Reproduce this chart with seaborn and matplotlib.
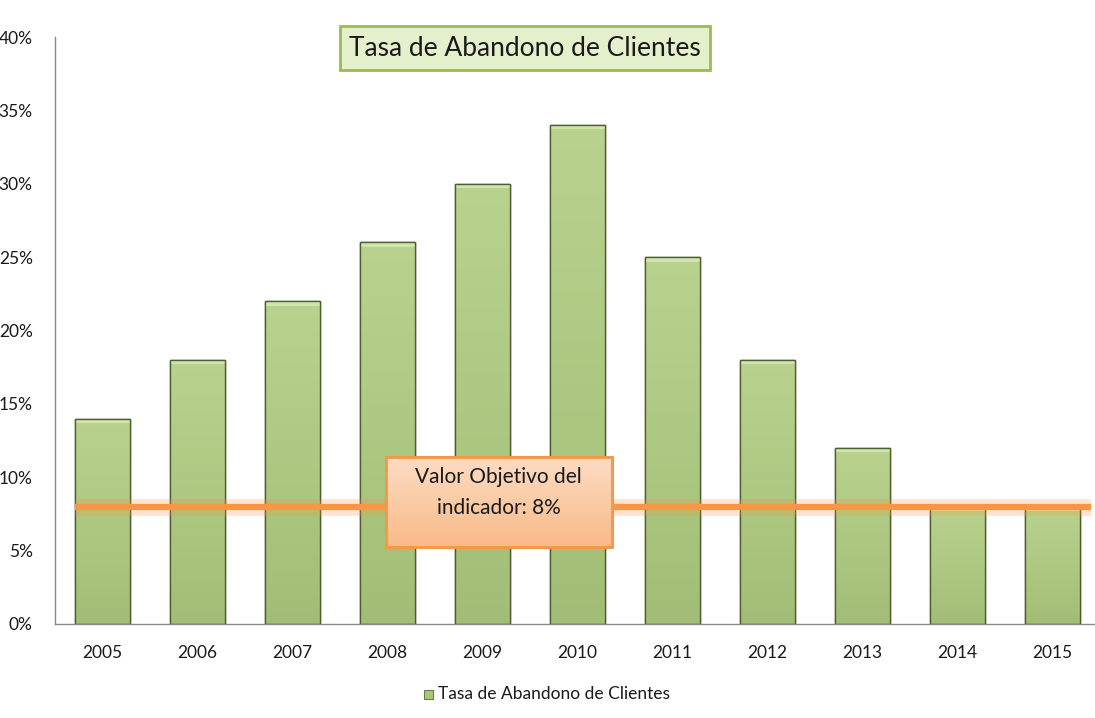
import matplotlib
matplotlib.use("Agg")
import matplotlib.pyplot as plt
import seaborn as sns
import numpy as np
import pandas as pd
from matplotlib.patches import Rectangle
from matplotlib.colors import LinearSegmentedColormap
from matplotlib.ticker import FuncFormatter, MultipleLocator

years = ["2005", "2006", "2007", "2008", "2009", "2010", "2011", "2012", "2013", "2014", "2015"]
rates = [14, 18, 22, 26, 30, 34, 25, 18, 12, 8, 8]
target = 8
title = "Tasa de Abandono de Clientes"
note = "Valor Objetivo del\nindicador: 8%"

sns.set_theme(style="white")
plt.rcParams['font.family'] = ['Lato', 'DejaVu Sans']

fig = plt.figure(figsize=(10.95, 7.18), dpi=100)
ax = fig.add_axes([55/1095, 94/718, 1045/1095, 587/718])

df = pd.DataFrame({"Año": years, "Tasa": rates})
sns.barplot(data=df, x="Año", y="Tasa", color="#B0CC80", width=0.58,
            edgecolor="#4f5f33", linewidth=1.0, saturation=1, ax=ax, zorder=2)

# gradient shading on bars
bar_cmap = LinearSegmentedColormap.from_list("g", ["#A2BE76", "#B9D38E"])
grad = np.linspace(0, 1, 256).reshape(-1, 1)
for p in list(ax.patches):
    x0, w, h = p.get_x(), p.get_width(), p.get_height()
    im = ax.imshow(grad, cmap=bar_cmap, aspect="auto", origin="lower",
                   extent=(x0, x0 + w, 0, h), zorder=2.2)
    im.set_clip_path(p)
    ax.add_patch(Rectangle((x0, h - 0.3), w, 0.3, facecolor="#D2E5AE",
                           edgecolor="none", zorder=2.5))
    ax.add_patch(Rectangle((x0, 0), w, h, facecolor="none",
                           edgecolor="#4f5f33", linewidth=1.0, zorder=2.6))

ax.set_xlim(-0.5, len(years) - 0.5)
ax.set_ylim(0, 40)
ax.yaxis.set_major_locator(MultipleLocator(5))
ax.yaxis.set_major_formatter(FuncFormatter(lambda v, _: f"{v:.0f}%"))
ax.set_xlabel("")
ax.set_ylabel("")
ax.tick_params(axis="both", length=0, labelsize=12.5, colors="#1a1a1a")
ax.tick_params(axis="y", pad=16)
ax.tick_params(axis="x", pad=15)
for s in ["top", "right"]:
    ax.spines[s].set_visible(False)
for s in ["left", "bottom"]:
    ax.spines[s].set_color("#8a8a8a")
    ax.spines[s].set_linewidth(1)

# target line with glow
xl0, xl1 = -0.29, len(years) - 0.6
ax.plot([xl0, xl1], [target, target], color="#F79646", lw=12, alpha=0.25,
        solid_capstyle="butt", zorder=3)
ax.plot([xl0, xl1], [target, target], color="#F79646", lw=4.5,
        solid_capstyle="butt", zorder=3.1)

# annotation box with gradient
bx0, bx1, by0, by1 = 2.98, 5.36, 5.25, 11.38
box = Rectangle((bx0, by0), bx1 - bx0, by1 - by0, facecolor="#FAC9A0",
                edgecolor="#F79646", linewidth=2, zorder=4)
ax.add_patch(box)
box_cmap = LinearSegmentedColormap.from_list("o", ["#F9BA88", "#FCDCC4"])
imb = ax.imshow(grad, cmap=box_cmap, aspect="auto", origin="lower",
                extent=(bx0, bx1, by0, by1), zorder=4.1)
imb.set_clip_path(box)
ax.add_patch(Rectangle((bx0, by0), bx1 - bx0, by1 - by0, facecolor="none",
                       edgecolor="#F79646", linewidth=2, zorder=4.2))
ax.text((bx0 + bx1) / 2, 8.95, note, ha="center", va="center", fontsize=15,
        color="#1a1a1a", linespacing=1.65, zorder=5)

ax.set_xlim(-0.5, len(years) - 0.5)
ax.set_ylim(0, 40)

# title box
fig.text(525/1095, 1 - 48/718, title, ha="center", va="center", fontsize=19,
         color="#1a1a1a", zorder=5,
         bbox=dict(boxstyle="square,pad=0.35", facecolor="#E4EFCC",
                   edgecolor="#9BBB59", linewidth=2))

# legend
lx, ly = 428/1095, 1 - 694/718
fig.patches.append(Rectangle((lx - 4/1095, ly - 5/718), 9/1095, 9/718,
                             transform=fig.transFigure, facecolor="#A9C77A",
                             edgecolor="#6b7f45", linewidth=0.8))
fig.text(lx + 10/1095, ly, title, ha="left", va="center", fontsize=12.5,
         color="#1a1a1a")

fig.savefig("out.png", dpi=100)
